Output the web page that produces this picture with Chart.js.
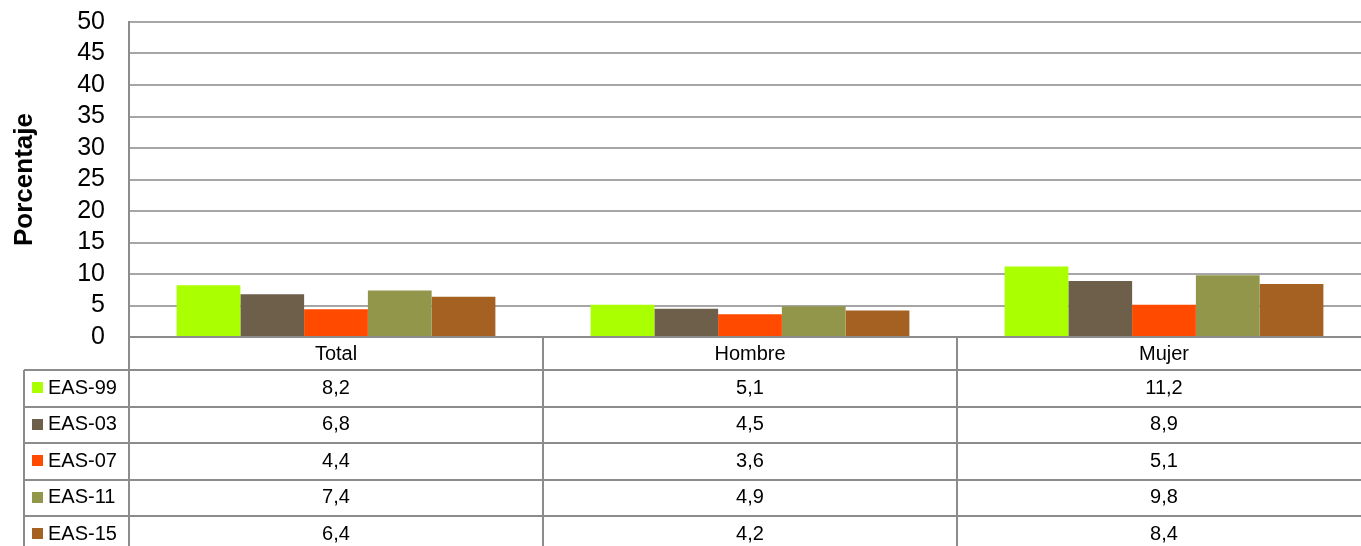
<!DOCTYPE html>
<html>
<head>
<meta charset="utf-8">
<script src="https://cdn.jsdelivr.net/npm/chart.js@4"></script>
<style>
  html, body { margin: 0; padding: 0; background: #fff; overflow: hidden; }
  #wrap { width: 1371px; height: 546px; }
</style>
</head>
<body>
<div id="wrap"><canvas id="c" width="1371" height="546"></canvas></div>
<script>
const categories = ['Total', 'Hombre', 'Mujer'];
const seriesNames = ['EAS-99', 'EAS-03', 'EAS-07', 'EAS-11', 'EAS-15'];
const eas99 = [8.2, 5.1, 11.2];
const eas03 = [6.8, 4.5, 8.9];
const eas07 = [4.4, 3.6, 5.1];
const eas11 = [7.4, 4.9, 9.8];
const eas15 = [6.4, 4.2, 8.4];
const yTicks = [0, 5, 10, 15, 20, 25, 30, 35, 40, 45, 50];
const seriesColors = ['#AAFF00', '#6E5F4A', '#FF4A00', '#91964A', '#A56122'];
const seriesValues = [eas99, eas03, eas07, eas11, eas15];

const FONT = "'Liberation Sans', Arial, sans-serif";

const dataTablePlugin = {
  id: 'dataTable',
  afterDraw(chart) {
    const ctx = chart.ctx;
    const area = chart.chartArea;
    const xs = chart.scales.x;
    const W = chart.width, H = chart.height;
    const top = area.bottom;
    const headerH = 33;
    const rowH = 36.5;
    const legendLeft = 24;
    const n = categories.length;
    const catW = (area.right - area.left) / n;
    ctx.save();
    ctx.strokeStyle = '#8c8c8c';
    ctx.lineWidth = 2;
    ctx.beginPath();
    ctx.moveTo(area.left, top); ctx.lineTo(W, top);
    for (let r = 0; r <= seriesNames.length; r++) {
      const y = Math.round(top + headerH + r * rowH);
      ctx.moveTo(legendLeft, y); ctx.lineTo(W, y);
    }
    ctx.moveTo(area.left, top); ctx.lineTo(area.left, H);
    for (let i = 1; i < n; i++) {
      const x = Math.round(area.left + i * catW);
      ctx.moveTo(x, top); ctx.lineTo(x, H);
    }
    ctx.moveTo(legendLeft, top + headerH); ctx.lineTo(legendLeft, H);
    ctx.stroke();

    ctx.fillStyle = '#000';
    ctx.font = '20px ' + FONT;
    ctx.textBaseline = 'middle';
    ctx.textAlign = 'center';
    categories.forEach((c, i) => {
      ctx.fillText(c, xs.getPixelForValue(i), top + headerH / 2 + 1);
    });
    seriesNames.forEach((s, r) => {
      const yc = top + headerH + r * rowH + rowH / 2;
      ctx.fillStyle = seriesColors[r];
      ctx.fillRect(32, Math.round(yc - 6), 11, 11);
      ctx.fillStyle = '#000';
      ctx.textAlign = 'left';
      ctx.fillText(s, 48, yc);
      ctx.textAlign = 'center';
      seriesValues[r].forEach((v, i) => {
        ctx.fillText(v.toFixed(1).replace('.', ','), xs.getPixelForValue(i), yc);
      });
    });
    ctx.restore();
  }
};

new Chart(document.getElementById('c'), {
  type: 'bar',
  data: {
    labels: categories,
    datasets: seriesNames.map((name, i) => ({
      label: name,
      data: seriesValues[i],
      backgroundColor: seriesColors[i],
      borderWidth: 0,
      categoryPercentage: 0.77,
      barPercentage: 1.0
    }))
  },
  options: {
    responsive: false,
    animation: false,
    devicePixelRatio: 1,
    layout: { padding: { top: 22, right: 0, bottom: 209, left: 0 } },
    plugins: { legend: { display: false }, tooltip: { enabled: false } },
    scales: {
      x: { display: false, offset: true },
      y: {
        min: 0, max: 50,
        afterBuildTicks(scale) { scale.ticks = yTicks.map(v => ({ value: v })); },
        afterFit(scale) { scale.width = 129; },
        ticks: {
          color: '#000',
          padding: 0,
          autoSkip: false,
          font: { family: FONT, size: 25 }
        },
        grid: { color: '#a6a6a6', lineWidth: 2, drawTicks: true, tickLength: 24, tickColor: 'rgba(0,0,0,0)' },
        border: { display: true, color: '#8c8c8c', width: 2 },
        title: {
          display: true,
          text: 'Porcentaje',
          color: '#000',
          font: { family: FONT, size: 26, weight: 'bold' },
          padding: { top: 9, bottom: 0 }
        }
      }
    }
  },
  plugins: [dataTablePlugin]
});
</script>
</body>
</html>
